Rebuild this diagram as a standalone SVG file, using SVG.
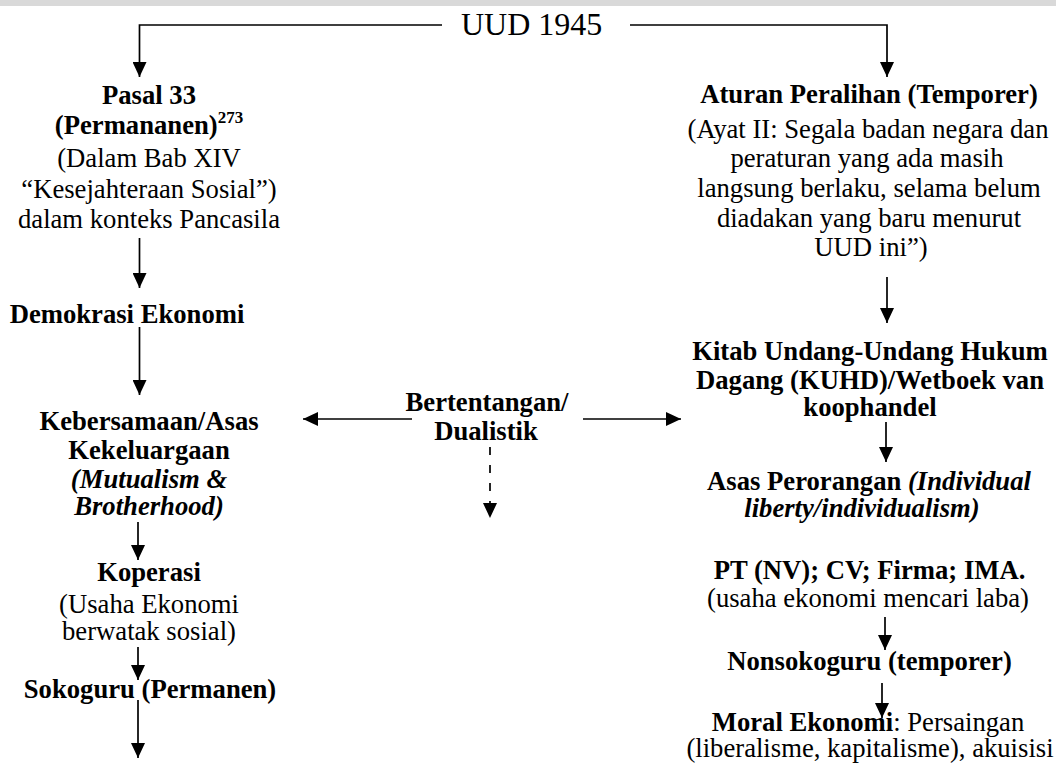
<svg xmlns="http://www.w3.org/2000/svg" width="1056" height="763" viewBox="0 0 1056 763">
  <style>
    text { font-family: "Liberation Serif", "Times New Roman", serif; font-size: 26.67px; fill: #000; text-anchor: middle; }
    .b { font-weight: bold; }
    .bi { font-weight: bold; font-style: italic; }
    .title { font-size: 32px; text-anchor: start; }
    .sup { font-size: 17px; font-weight: bold; }
    .wire { fill: none; stroke: #000; stroke-width: 1.7; marker-end: url(#head); }
    .dash { stroke-dasharray: 8 10; }
  </style>
  <defs>
    <marker id="head" markerUnits="userSpaceOnUse" markerWidth="15" markerHeight="14" refX="15" refY="7" orient="auto">
      <path d="M0,0 L15,7 L0,14 Z" fill="#000"/>
    </marker>
  </defs>

  <rect x="0" y="0" width="1056" height="6" fill="#d9d9d9"/>

  <g id="uud1945">
    <text class="title" x="461" y="35">UUD 1945</text>
  </g>

  <g id="connectors">
    <path class="wire" d="M442,25 H139.5 V77"/>
    <path class="wire" d="M630,25 H887 V77"/>
    <path class="wire" d="M139.5,238 V288"/>
    <path class="wire" d="M139.5,327 V395"/>
    <path class="wire" d="M138,522 V560"/>
    <path class="wire" d="M138,647 V680"/>
    <path class="wire" d="M138,700 V758"/>
    <path class="wire" d="M887,277 V323"/>
    <path class="wire" d="M886,422 V462"/>
    <path class="wire" d="M885,617 V650"/>
    <path class="wire" d="M882,683 V718"/>
    <path class="wire" d="M412,419 H303"/>
    <path class="wire" d="M583,419 H681"/>
    <path class="wire dash" d="M490,447 V518"/>
  </g>

  <g id="pasal33">
    <text class="b" x="149" y="104">Pasal 33</text>
    <text class="b" x="149" y="134">(Permananen)<tspan class="sup" dy="-11">273</tspan></text>
    <text x="149" y="167">(Dalam Bab XIV</text>
    <text x="149" y="198">“Kesejahteraan Sosial”)</text>
    <text x="149" y="228">dalam konteks Pancasila</text>
  </g>

  <g id="demokrasi-ekonomi">
    <text class="b" x="127" y="323">Demokrasi Ekonomi</text>
  </g>

  <g id="kebersamaan">
    <text class="b" x="149" y="430">Kebersamaan/Asas</text>
    <text class="b" x="149" y="459">Kekeluargaan</text>
    <text class="bi" x="149" y="488">(Mutualism &amp;</text>
    <text class="bi" x="149" y="515">Brotherhood)</text>
  </g>

  <g id="koperasi">
    <text class="b" x="149" y="581">Koperasi</text>
    <text x="149" y="613">(Usaha Ekonomi</text>
    <text x="149" y="640">berwatak sosial)</text>
  </g>

  <g id="sokoguru">
    <text class="b" x="150" y="698">Sokoguru (Permanen)</text>
  </g>

  <g id="bertentangan">
    <text class="b" x="487" y="411">Bertentangan/</text>
    <text class="b" x="486" y="440">Dualistik</text>
  </g>

  <g id="aturan-peralihan">
    <text class="b" x="869" y="103">Aturan Peralihan (Temporer)</text>
    <text x="868" y="137.5">(Ayat II: Segala badan negara dan</text>
    <text x="867" y="166.5">peraturan yang ada masih</text>
    <text x="869" y="196.5">langsung berlaku, selama belum</text>
    <text x="869" y="226.5">diadakan yang baru menurut</text>
    <text x="871" y="256">UUD ini”)</text>
  </g>

  <g id="kuhd">
    <text class="b" x="870" y="360">Kitab Undang-Undang Hukum</text>
    <text class="b" x="870" y="389">Dagang (KUHD)/Wetboek van</text>
    <text class="b" x="870" y="416">koophandel</text>
  </g>

  <g id="asas-perorangan">
    <text class="b" x="869" y="490">Asas Perorangan <tspan class="bi">(Individual</tspan></text>
    <text class="bi" x="862" y="517">liberty/individualism)</text>
  </g>

  <g id="pt-cv">
    <text class="b" x="869.5" y="579">PT (NV); CV; Firma; IMA.</text>
    <text x="868" y="607">(usaha ekonomi mencari laba)</text>
  </g>

  <g id="nonsokoguru">
    <text class="b" x="869.5" y="670">Nonsokoguru (temporer)</text>
  </g>

  <g id="moral-ekonomi">
    <text x="868" y="731"><tspan class="b">Moral Ekonomi</tspan>: Persaingan</text>
    <text x="870" y="757">(liberalisme, kapitalisme), akuisisi</text>
  </g>
</svg>
